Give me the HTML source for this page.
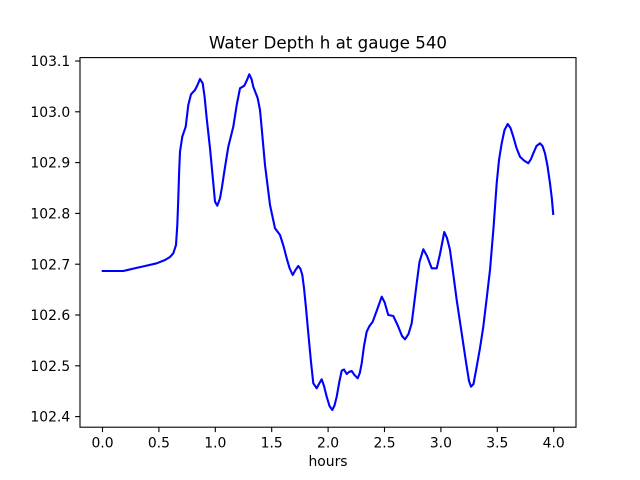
<!DOCTYPE html>
<html>
<head>
<meta charset="utf-8">
<style>
html,body{margin:0;padding:0;background:#fff;}
svg{display:block;}
text{font-family:"DejaVu Sans","Liberation Sans",sans-serif;fill:#000;}
</style>
</head>
<body>
<svg width="640" height="480" viewBox="0 0 640 480" xmlns="http://www.w3.org/2000/svg">
<rect x="0" y="0" width="640" height="480" fill="#fff"/>
<text x="328" y="48.5" font-size="16.7" text-anchor="middle">Water Depth h at gauge 540</text>

<polyline fill="none" stroke="#0000ff" stroke-width="2.1" stroke-linejoin="round" stroke-linecap="butt" points="
101.7,271 123.3,271 133.3,268.6 145,266 156.7,263.3 165,260 170,257 173.3,253.3 176,245 177.3,225 178.3,198.3 179.2,170 180,151.7 182.3,136.7 185.7,126.7 188.3,105 191,94.3 195,90 197.5,85 200,79 202.7,83.3 204.5,96 206.7,118.3 210,148.3 213,180 215,201.7 217.3,205.7 220,198.3 222,187 224.3,171.7 228.3,146.7 233.3,126.7 236.7,105 240,88.3 244.3,85.7 247,80 249.3,74.3 251.5,79 253.3,86.7 257.7,98.3 260,110 261.7,128.3 265,165 270,205 275,228.3 280,235 283.5,246 286.7,258.3 289.5,268 292.7,275 295.5,270 298.3,266 300.5,269 302.3,275 304,288 306,308 308.3,333.3 311,362 313.3,383.3 316.7,388.3 319.5,383 321.7,379.3 324,386 326.7,396.7 329.5,406 332.3,410 334.5,405.5 336.7,396.7 339.3,382 341.7,370.7 344,369.5 346.7,374 349,372 351.7,371 354.5,375 357.7,378.3 359.8,373 361.7,363.3 364,346 366.7,331.7 369.5,326 372.7,321.7 377,310 381.7,296.7 384.5,302 388.3,315 393.3,316 398,326 402,336 405,339.3 408.5,334 411.7,323.3 414,305 416.7,283.3 419.5,262 423.3,249.3 427,256 431.7,268.3 436.7,268.3 440,254 444.3,232 447,238 450,250 453,272 456.7,300 461.7,333.3 466,362 469,381 471,386.7 473.5,384 476.7,366.7 480,348 483.3,326.7 486.5,300 490,270 493.5,228 496.7,183.3 499,160 501.7,143.3 504.5,130 507.7,124 510.5,128 513.3,136.7 516.5,148 520,156.7 524,160.5 528.3,163.3 531,159 533.3,153.3 536.5,146 540,143.3 542.5,146 545,153.3 547.5,166 550,183.3 551.8,198 553.3,215"/>

<rect x="80" y="57.6" width="496" height="369.6" fill="none" stroke="#000" stroke-width="1.1"/>

<g stroke="#000" stroke-width="1.1">
<line x1="75.1" y1="61" x2="80" y2="61"/>
<line x1="75.1" y1="111.8" x2="80" y2="111.8"/>
<line x1="75.1" y1="162.6" x2="80" y2="162.6"/>
<line x1="75.1" y1="213.4" x2="80" y2="213.4"/>
<line x1="75.1" y1="264.2" x2="80" y2="264.2"/>
<line x1="75.1" y1="315" x2="80" y2="315"/>
<line x1="75.1" y1="365.8" x2="80" y2="365.8"/>
<line x1="75.1" y1="416.6" x2="80" y2="416.6"/>

<line x1="102.5" y1="427.2" x2="102.5" y2="432.1"/>
<line x1="158.9" y1="427.2" x2="158.9" y2="432.1"/>
<line x1="215.3" y1="427.2" x2="215.3" y2="432.1"/>
<line x1="271.7" y1="427.2" x2="271.7" y2="432.1"/>
<line x1="328.1" y1="427.2" x2="328.1" y2="432.1"/>
<line x1="384.5" y1="427.2" x2="384.5" y2="432.1"/>
<line x1="440.9" y1="427.2" x2="440.9" y2="432.1"/>
<line x1="497.3" y1="427.2" x2="497.3" y2="432.1"/>
<line x1="553.7" y1="427.2" x2="553.7" y2="432.1"/>
</g>

<g font-size="13.9" text-anchor="end">
<text x="70.2" y="66.1">103.1</text>
<text x="70.2" y="116.9">103.0</text>
<text x="70.2" y="167.7">102.9</text>
<text x="70.2" y="218.5">102.8</text>
<text x="70.2" y="269.3">102.7</text>
<text x="70.2" y="320.1">102.6</text>
<text x="70.2" y="370.9">102.5</text>
<text x="70.2" y="421.7">102.4</text>
</g>

<g font-size="13.9" text-anchor="middle">
<text x="102.5" y="447.6">0.0</text>
<text x="158.9" y="447.6">0.5</text>
<text x="215.3" y="447.6">1.0</text>
<text x="271.7" y="447.6">1.5</text>
<text x="328.1" y="447.6">2.0</text>
<text x="384.5" y="447.6">2.5</text>
<text x="440.9" y="447.6">3.0</text>
<text x="497.3" y="447.6">3.5</text>
<text x="553.7" y="447.6">4.0</text>
<text x="328" y="466">hours</text>
</g>
</svg>
</body>
</html>
